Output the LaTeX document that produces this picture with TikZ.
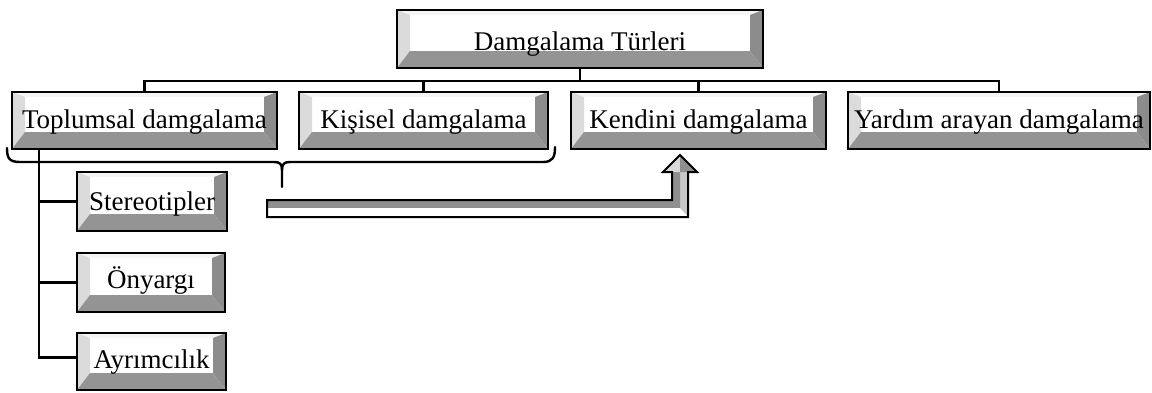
\documentclass[tikz,border=0pt]{standalone}
\usepackage{fontspec}
\setmainfont{Liberation Serif}
\usetikzlibrary{calc}

\definecolor{bevtop}{gray}{0.96}
\definecolor{bevleft}{gray}{0.86}
\definecolor{bevright}{gray}{0.55}
\definecolor{bevbottom}{gray}{0.58}
\definecolor{arrdark}{gray}{0.56}
\definecolor{arrlight}{gray}{0.78}

\tikzset{
  bevelbox/.style={rectangle, draw=black, line width=2.6pt, fill=white, inner sep=0pt,
    font=\fontsize{27}{30}\selectfont, text depth=0pt, text height=17pt,
    path picture={
      \coordinate (bb-nw) at (path picture bounding box.north west);
      \coordinate (bb-ne) at (path picture bounding box.north east);
      \coordinate (bb-sw) at (path picture bounding box.south west);
      \coordinate (bb-se) at (path picture bounding box.south east);
      \fill[bevtop] (bb-nw) -- (bb-ne) -- ($(bb-ne)+(-13,5)$) -- ($(bb-nw)+(13,5)$) -- cycle;
      \fill[bevleft] (bb-nw) -- ($(bb-nw)+(13,5)$) -- ($(bb-sw)+(13,-17)$) -- (bb-sw) -- cycle;
      \fill[bevright] (bb-ne) -- (bb-se) -- ($(bb-se)+(-13,-17)$) -- ($(bb-ne)+(-13,5)$) -- cycle;
      \fill[bevbottom] (bb-sw) -- (bb-se) -- ($(bb-se)+(-13,-17)$) -- ($(bb-sw)+(13,-17)$) -- cycle;
    }},
  conn/.style={draw=black, line width=2.4pt},
  bracestyle/.style={draw=black, line width=2.4pt, line cap=round}
}

\begin{document}
\begin{tikzpicture}[x=1pt, y=-1pt]
\useasboundingbox (0,0) rectangle (1152,392);

% root
\node[bevelbox, minimum width=366pt, minimum height=58pt, text height=22pt] (root) at (580,39) {Damgalama Türleri};

% second level
\node[bevelbox, minimum width=265pt, minimum height=57pt, text height=15pt] (tl) at (144.5,120.5) {Toplumsal damgalama};
\node[bevelbox, minimum width=249pt, minimum height=57pt, text height=15pt] (ki) at (423.5,120.5) {Kişisel damgalama};
\node[bevelbox, minimum width=255pt, minimum height=57pt, text height=15pt] (ke) at (698.5,120.5) {Kendini damgalama};
\node[bevelbox, minimum width=302pt, minimum height=57pt, text height=15pt] (ya) at (999,120.5) {Yardım arayan damgalama};

% third level under Toplumsal damgalama
\node[bevelbox, minimum width=150pt, minimum height=59pt, text height=17pt] (st) at (152,201.5) {Stereotipler};
\node[bevelbox, minimum width=148pt, minimum height=59pt, text height=11pt] (on) at (151,282.5) {Önyargı};
\node[bevelbox, minimum width=149pt, minimum height=57pt, text height=13pt] (ay) at (151.5,361.5) {Ayrımcılık};

% tree connectors
\coordinate (bus) at (580,81);
\draw[conn] (root.south) -- (bus) -| (tl.north);
\draw[conn] (bus) -| (ki.north);
\draw[conn] (bus) -| (ke.north);
\draw[conn] (bus) -| (ya.north);

\coordinate (trunk) at ([xshift=28pt]tl.south west);
\draw[conn] (trunk) |- (st.west);
\draw[conn] (trunk) |- (on.west);
\draw[conn] (trunk) |- ([yshift=4pt]ay.west);

% brace under the first two categories
\coordinate (brL) at (7,148);
\coordinate (brR) at (555,147);
\coordinate (brT) at (282,187);
\draw[bracestyle] (brL) .. controls (7,158) and (9,162) .. (20,162) -- (274,162)
  .. controls (280,162) and (282,164) .. (282,170) -- (brT);
\draw[bracestyle] (282,170) .. controls (282,164) and (284,162) .. (290,162) -- (543,162)
  .. controls (553,162) and (555,157) .. (brR);

% block arrow towards Kendini damgalama
\fill[arrlight] (267,200) -- (672,200) -- (672,172) -- (663,172) -- (680,155) -- (697,172)
  -- (688,172) -- (688,217) -- (267,217) -- cycle;
\fill[arrdark] (267,200) -- (672,200) -- (672,172) -- (680,172) -- (680,208) -- (267,208) -- cycle;
\fill[white] (267,208) -- (680,208) -- (688,217) -- (267,217) -- cycle;
\fill[white!85!black] (663,172) -- (680,155) -- (680,172) -- cycle;
\fill[arrdark] (680,155) -- (697,172) -- (680,172) -- cycle;
\draw[black, line width=2pt, line join=miter] (267,200) -- (672,200) -- (672,172) -- (663,172)
  -- (680,155) -- (697,172) -- (688,172) -- (688,217) -- (267,217) -- cycle;
\end{tikzpicture}
\end{document}
